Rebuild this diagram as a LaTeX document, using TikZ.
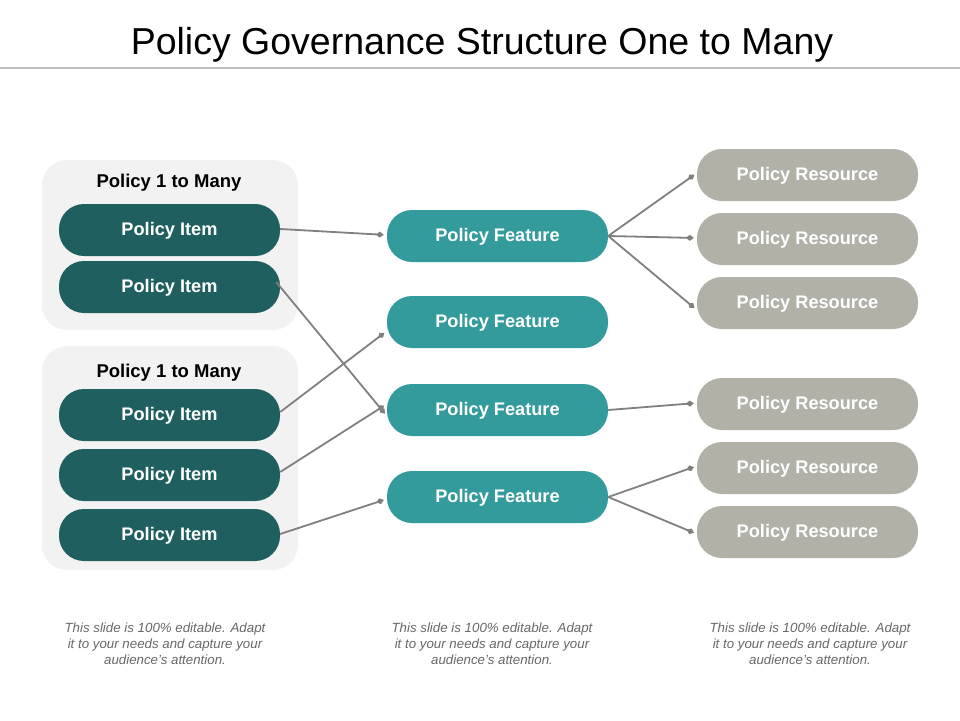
\documentclass[tikz,border=0pt]{standalone}
\usepackage{fontspec}
\setmainfont{Liberation Sans}
\usetikzlibrary{arrows.meta}
\definecolor{itemc}{HTML}{1F5F5F}
\definecolor{featc}{HTML}{339B9B}
\definecolor{resc}{HTML}{B1B1A8}
\definecolor{grpc}{HTML}{F2F2F2}
\definecolor{linec}{HTML}{808080}
\begin{document}
\begin{tikzpicture}[x=1pt,y=-1pt,
  pill/.style={rounded corners=25pt,minimum width=221pt,minimum height=52pt,inner sep=0pt,text=white,text height=13pt,text depth=3pt,font=\bfseries\fontsize{18.2}{20}\selectfont},
  itembox/.style={pill,fill=itemc},
  featbox/.style={pill,fill=featc},
  resbox/.style={pill,fill=resc},
  conn/.style={draw=linec,line width=1.8pt,-{Diamond[length=8pt,width=6pt]},shorten >=3pt},
  foot/.style={align=center,text=linec!80!black,font=\itshape\fontsize{13.3}{16}\selectfont}]
\useasboundingbox (0,0) rectangle (960,720);
\node (title) at (482,45) {\fontsize{37.5}{40}\selectfont Policy Governance Structure One to Many};
\draw[draw=black!25,line width=2pt] (0,68) -- (960,68);
\fill[grpc,rounded corners=25pt] (42,160) rectangle (298,330);
\fill[grpc,rounded corners=25pt] (42,346) rectangle (298,570);
\node[font=\bfseries\fontsize{18.5}{20}\selectfont] (g1) at (169,183) {Policy 1 to Many};
\node[font=\bfseries\fontsize{18.5}{20}\selectfont] (g2) at (169,373) {Policy 1 to Many};
\foreach \n/\y in {i1/230,i2/287,i3/415,i4/475,i5/535}
  \node[itembox] (\n) at (169.5,\y) {Policy Item};
\foreach \n/\y in {f1/236,f2/322,f3/410,f4/497}
  \node[featbox] (\n) at (497.5,\y) {Policy Feature};
\foreach \n/\y in {r1/175,r2/239,r3/303,r4/404,r5/468,r6/532}
  \node[resbox] (\n) at (807.5,\y) {Policy Resource};
\draw[conn] ([yshift=1pt]i1.east) -- ([yshift=1pt]f1.west);
\draw[conn] ([xshift=-4pt,yshift=5pt]i2.east) -- ([yshift=-6pt]f3.west);
\draw[conn] ([yshift=3pt]i3.east) -- ([yshift=-9pt]f2.west);
\draw[conn] ([yshift=3pt]i4.east) -- ([yshift=6pt]f3.west);
\draw[conn] ([yshift=1pt]i5.east) -- ([yshift=-2pt]f4.west);
\draw[conn] (f1.east) -- ([yshift=2pt]r1.west);
\draw[conn] (f1.east) -- ([yshift=1pt]r2.west);
\draw[conn] (f1.east) -- ([yshift=-7pt]r3.west);
\draw[conn] (f3.east) -- ([yshift=1pt]r4.west);
\draw[conn] (f4.east) -- ([yshift=2pt]r5.west);
\draw[conn] (f4.east) -- ([yshift=-2pt]r6.west);
\foreach \n/\x in {t1/165,t2/492,t3/810}
  \node[foot] (\n) at (\x,644) {This slide is 100\% editable. Adapt\\it to your needs and capture your\\audience's attention.};
\end{tikzpicture}
\end{document}
